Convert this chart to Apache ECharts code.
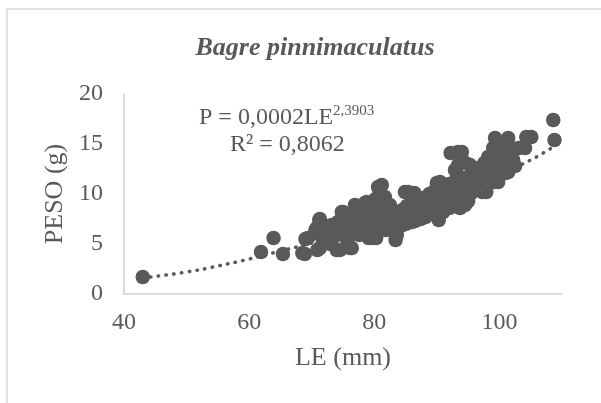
<!DOCTYPE html>
<html>
<head>
<meta charset="utf-8">
<script src="https://cdn.jsdelivr.net/npm/echarts@6/dist/echarts.min.js"></script>
<style>html,body{margin:0;padding:0;background:#fff}#c{width:601px;height:403px}</style>
</head>
<body>
<div id="c"></div>
<script>
const titleText = 'Bagre pinnimaculatus';
const xName = 'LE (mm)';
const yName = 'PESO (g)';
const eqMain = 'P = 0,0002LE';
const eqExp = '2,3903';
const eqR2 = 'R² = 0,8062';
const xTicks = [40, 60, 80, 100];
const yTicks = [0, 5, 10, 15, 20];

const LE = [
 43.0,61.9,63.9,65.4,68.5,68.9,69.0,69.4,70.9,71.3,
 70.6,70.8,71.2,71.3,71.5,71.8,72.0,72.3,72.5,
 72.8,73.0,73.2,73.5,73.8,74.0,74.2,74.5,74.6,74.8,75.0,75.0,75.2,75.5,75.7,76.0,76.1,76.4,76.3,
 76.6,76.9,77.0,77.3,77.4,77.6,77.8,78.0,78.3,78.5,78.6,78.8,79.0,79.1,79.3,79.5,79.8,79.9,80.0,
 80.2,80.3,80.4,80.6,80.8,80.9,81.0,81.2,81.3,81.5,81.7,81.9,82.0,82.2,82.5,82.7,83.0,83.2,83.4,83.6,83.8,84.0,
 84.2,84.5,84.7,84.9,85.0,85.2,85.4,85.6,85.8,86.0,86.2,86.4,86.5,86.7,86.9,87.0,87.2,87.4,87.6,87.8,88.0,
 88.2,88.4,88.6,88.8,89.0,89.2,89.4,89.6,89.8,90.0,90.0,90.2,90.3,90.5,90.6,90.8,91.0,91.2,91.4,91.6,91.8,92.0,92.0,
 92.2,92.2,92.4,92.6,92.8,92.9,93.0,93.2,93.4,93.4,93.5,93.7,93.8,94.0,94.0,94.0,94.2,94.4,94.5,94.6,94.8,95.0,95.0,
 95.3,95.5,95.8,96.0,96.3,96.6,96.9,97.2,97.3,97.6,97.9,97.9,98.2,98.4,98.7,99.0,99.1,99.3,99.5,99.8,99.8,100.0,
 100.3,100.6,101.0,101.4,101.4,101.6,101.7,102.2,102.5,103.1,104.1,104.3,105.1,
 108.6,108.8
];
const PESO = [
 1.7,4.2,5.6,4.0,4.1,4.0,5.5,5.6,4.4,4.6,
 6.4,6.6,7.4,7.5,5.8,6.1,5.2,6.8,5.6,
 6.2,5.0,6.9,5.7,6.3,4.4,7.2,4.4,7.2,8.2,8.2,5.9,6.5,7.5,5.4,6.8,4.6,4.6,7.9,
 6.1,8.9,7.2,8.6,6.5,5.9,7.7,6.9,8.3,9.1,6.2,9.2,7.4,5.6,8.0,6.6,5.6,8.7,7.1,
 9.5,5.6,6.3,10.7,7.8,10.2,6.8,10.9,8.4,7.3,9.7,6.4,8.0,7.0,8.9,7.6,6.7,8.2,5.4,5.9,7.3,7.9,
 6.8,8.4,7.5,10.2,7.0,8.8,10.2,7.8,8.3,7.2,9.0,10.1,7.3,8.6,7.8,9.3,8.1,7.5,8.9,9.6,8.3,
 7.7,9.1,8.6,10.0,8.0,9.4,8.8,10.3,7.9,9.7,11.1,8.5,7.4,11.2,9.2,10.5,8.2,9.9,8.8,10.8,9.4,8.6,11.0,
 9.9,14.1,10.6,9.1,11.2,12.4,9.7,10.4,14.2,12.9,8.9,8.6,10.9,10.2,8.9,14.2,11.6,9.6,8.9,13.1,10.5,11.7,9.3,
 12.9,10.1,11.3,12.2,10.8,12.6,11.2,12.0,10.2,13.1,12.9,10.2,13.7,11.8,12.4,14.6,11.2,15.6,12.6,13.9,11.2,14.8,
 13.0,14.3,12.1,15.6,12.2,13.4,14.7,13.4,12.8,14.6,14.6,15.7,15.7,
 17.4,15.4
];
// trendline
const trendLE = [43, 50, 55, 60, 65, 70, 75, 80, 85, 90, 95, 100, 105, 108.8];
const trendP = [1.6, 2.2, 2.8, 3.5, 4.3, 5.1, 6.0, 7.1, 8.2, 9.4, 10.7, 12.0, 13.4, 14.8];

const FONT = 'Liberation Serif, Times New Roman, serif';
const TXT = '#595959';
const chart = echarts.init(document.getElementById('c'), null, {renderer: 'canvas'});
chart.setOption({
  animation: false,
  backgroundColor: '#fff',
  title: {
    text: titleText, left: 310, top: 30, textAlign: 'center',
    textStyle: {fontFamily: FONT, fontSize: 26, fontWeight: 'bold', fontStyle: 'italic', color: TXT}
  },
  grid: {left: 124, right: 39, top: 94, bottom: 109, containLabel: false},
  xAxis: {
    type: 'value', min: 40, max: 110, interval: 20,
    name: xName, nameLocation: 'middle', nameGap: 51,
    nameTextStyle: {fontFamily: FONT, fontSize: 26, color: TXT},
    axisLine: {show: true, lineStyle: {color: '#d0d0d0', width: 1.5}},
    axisTick: {show: false},
    splitLine: {show: false},
    axisLabel: {fontFamily: FONT, fontSize: 24, color: TXT, margin: 17, showMaxLabel: false,
      formatter: v => xTicks.indexOf(v) >= 0 ? String(v) : ''}
  },
  yAxis: {
    type: 'value', min: 0, max: 20, interval: 5,
    name: yName, nameLocation: 'middle', nameGap: 54, nameRotate: 90,
    nameTextStyle: {fontFamily: FONT, fontSize: 26, color: TXT},
    axisLine: {show: true, lineStyle: {color: '#d0d0d0', width: 1.5}},
    axisTick: {show: false},
    splitLine: {show: false},
    axisLabel: {fontFamily: FONT, fontSize: 24, color: TXT, margin: 21,
      formatter: v => yTicks.indexOf(v) >= 0 ? String(v) : ''}
  },
  graphic: [
    {type: 'rect', silent: true, z: -1, shape: {x: 7, y: 9, width: 700, height: 500},
      style: {fill: 'none', stroke: '#d9d9d9', lineWidth: 1.5}},
    {type: 'text', left: 199, top: 106, z: 100,
      style: {text: eqMain, font: '24px ' + FONT, fill: TXT}},
    {type: 'text', left: 333, top: 104, z: 100,
      style: {text: eqExp, font: '15px ' + FONT, fill: TXT}},
    {type: 'text', left: 230, top: 133, z: 100,
      style: {text: eqR2, font: '24px ' + FONT, fill: TXT}}
  ],
  series: [
    {
      type: 'line', data: trendLE.map((x, i) => [x, trendP[i]]), smooth: true,
      showSymbol: false, symbol: 'none', z: 1,
      lineStyle: {color: '#595959', width: 3.5, type: [0.5, 7.3], cap: 'round'}
    },
    {
      type: 'scatter', data: LE.map((x, i) => [x, PESO[i]]), symbol: 'circle', symbolSize: 14.5, z: 2,
      itemStyle: {color: '#595959', opacity: 1}
    }
  ]
});
</script>
</body>
</html>
